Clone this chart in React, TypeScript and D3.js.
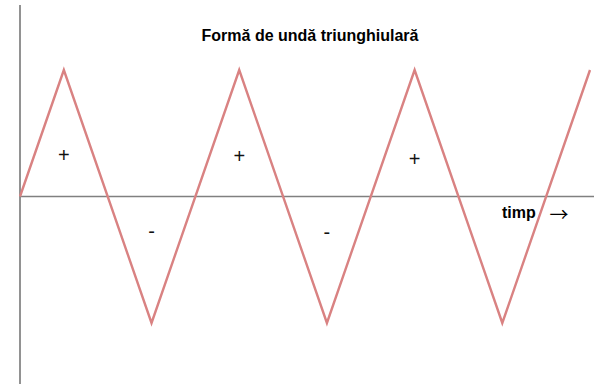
import React from "react";
import * as d3 from "d3";

const times = [0, 0.25, 0.75, 1.25, 1.75, 2.25, 2.75, 3.25];
const values = [0, 1, -1, 1, -1, 1, -1, 1];
const signLabels = ["+", "-", "+", "-", "+"];
const signTimes = [0.25, 0.75, 1.25, 1.75, 2.25];
const signValues = [0.33, -0.27, 0.32, -0.28, 0.3];
const title = "Formă de undă triunghiulară";
const axisLabel = "timp";

const W = 594;
const H = 384;

export default function App() {
  const x = d3.scaleLinear().domain([0, 3.25]).range([20, 590]);
  const y = d3.scaleLinear().domain([-1, 1]).range([323, 70]);
  const pts: [number, number][] = times.map((t, i) => [t, values[i]]);
  const line = d3
    .line<[number, number]>()
    .x((d) => x(d[0]))
    .y((d) => y(d[1]));
  const font = "'Liberation Sans', Arial, sans-serif";
  return (
    <svg
      width={W}
      height={H}
      style={{ position: "fixed", left: 0, top: 0, background: "#fff" }}
    >
      <line x1={x(0)} x2={x(0)} y1={5} y2={H} stroke="#777" strokeWidth={1.6} />
      <line x1={x(0)} x2={W} y1={y(0)} y2={y(0)} stroke="#808080" strokeWidth={1.6} />
      <path d={line(pts) || ""} fill="none" stroke="#d98282" strokeWidth={2.4} />
      <text
        x={310}
        y={41}
        textAnchor="middle"
        fontFamily={font}
        fontWeight="bold"
        fontSize={16}
        fill="#000"
      >
        {title}
      </text>
      {signLabels.map((s, i) => (
        <text
          key={i}
          x={x(signTimes[i])}
          y={y(signValues[i])}
          textAnchor="middle"
          dominantBaseline="central"
          fontFamily={font}
          fontSize={20}
          fill="#111"
        >
          {s}
        </text>
      ))}
      <text x={502} y={218} fontFamily={font} fontWeight="bold" fontSize={16} fill="#000">
        {axisLabel}
      </text>
      <text
        x={559}
        y={213}
        textAnchor="middle"
        dominantBaseline="central"
        fontFamily="'Noto Sans CJK SC', sans-serif"
        fontSize={19}
        fill="#000"
      >
        →
      </text>
    </svg>
  );
}
